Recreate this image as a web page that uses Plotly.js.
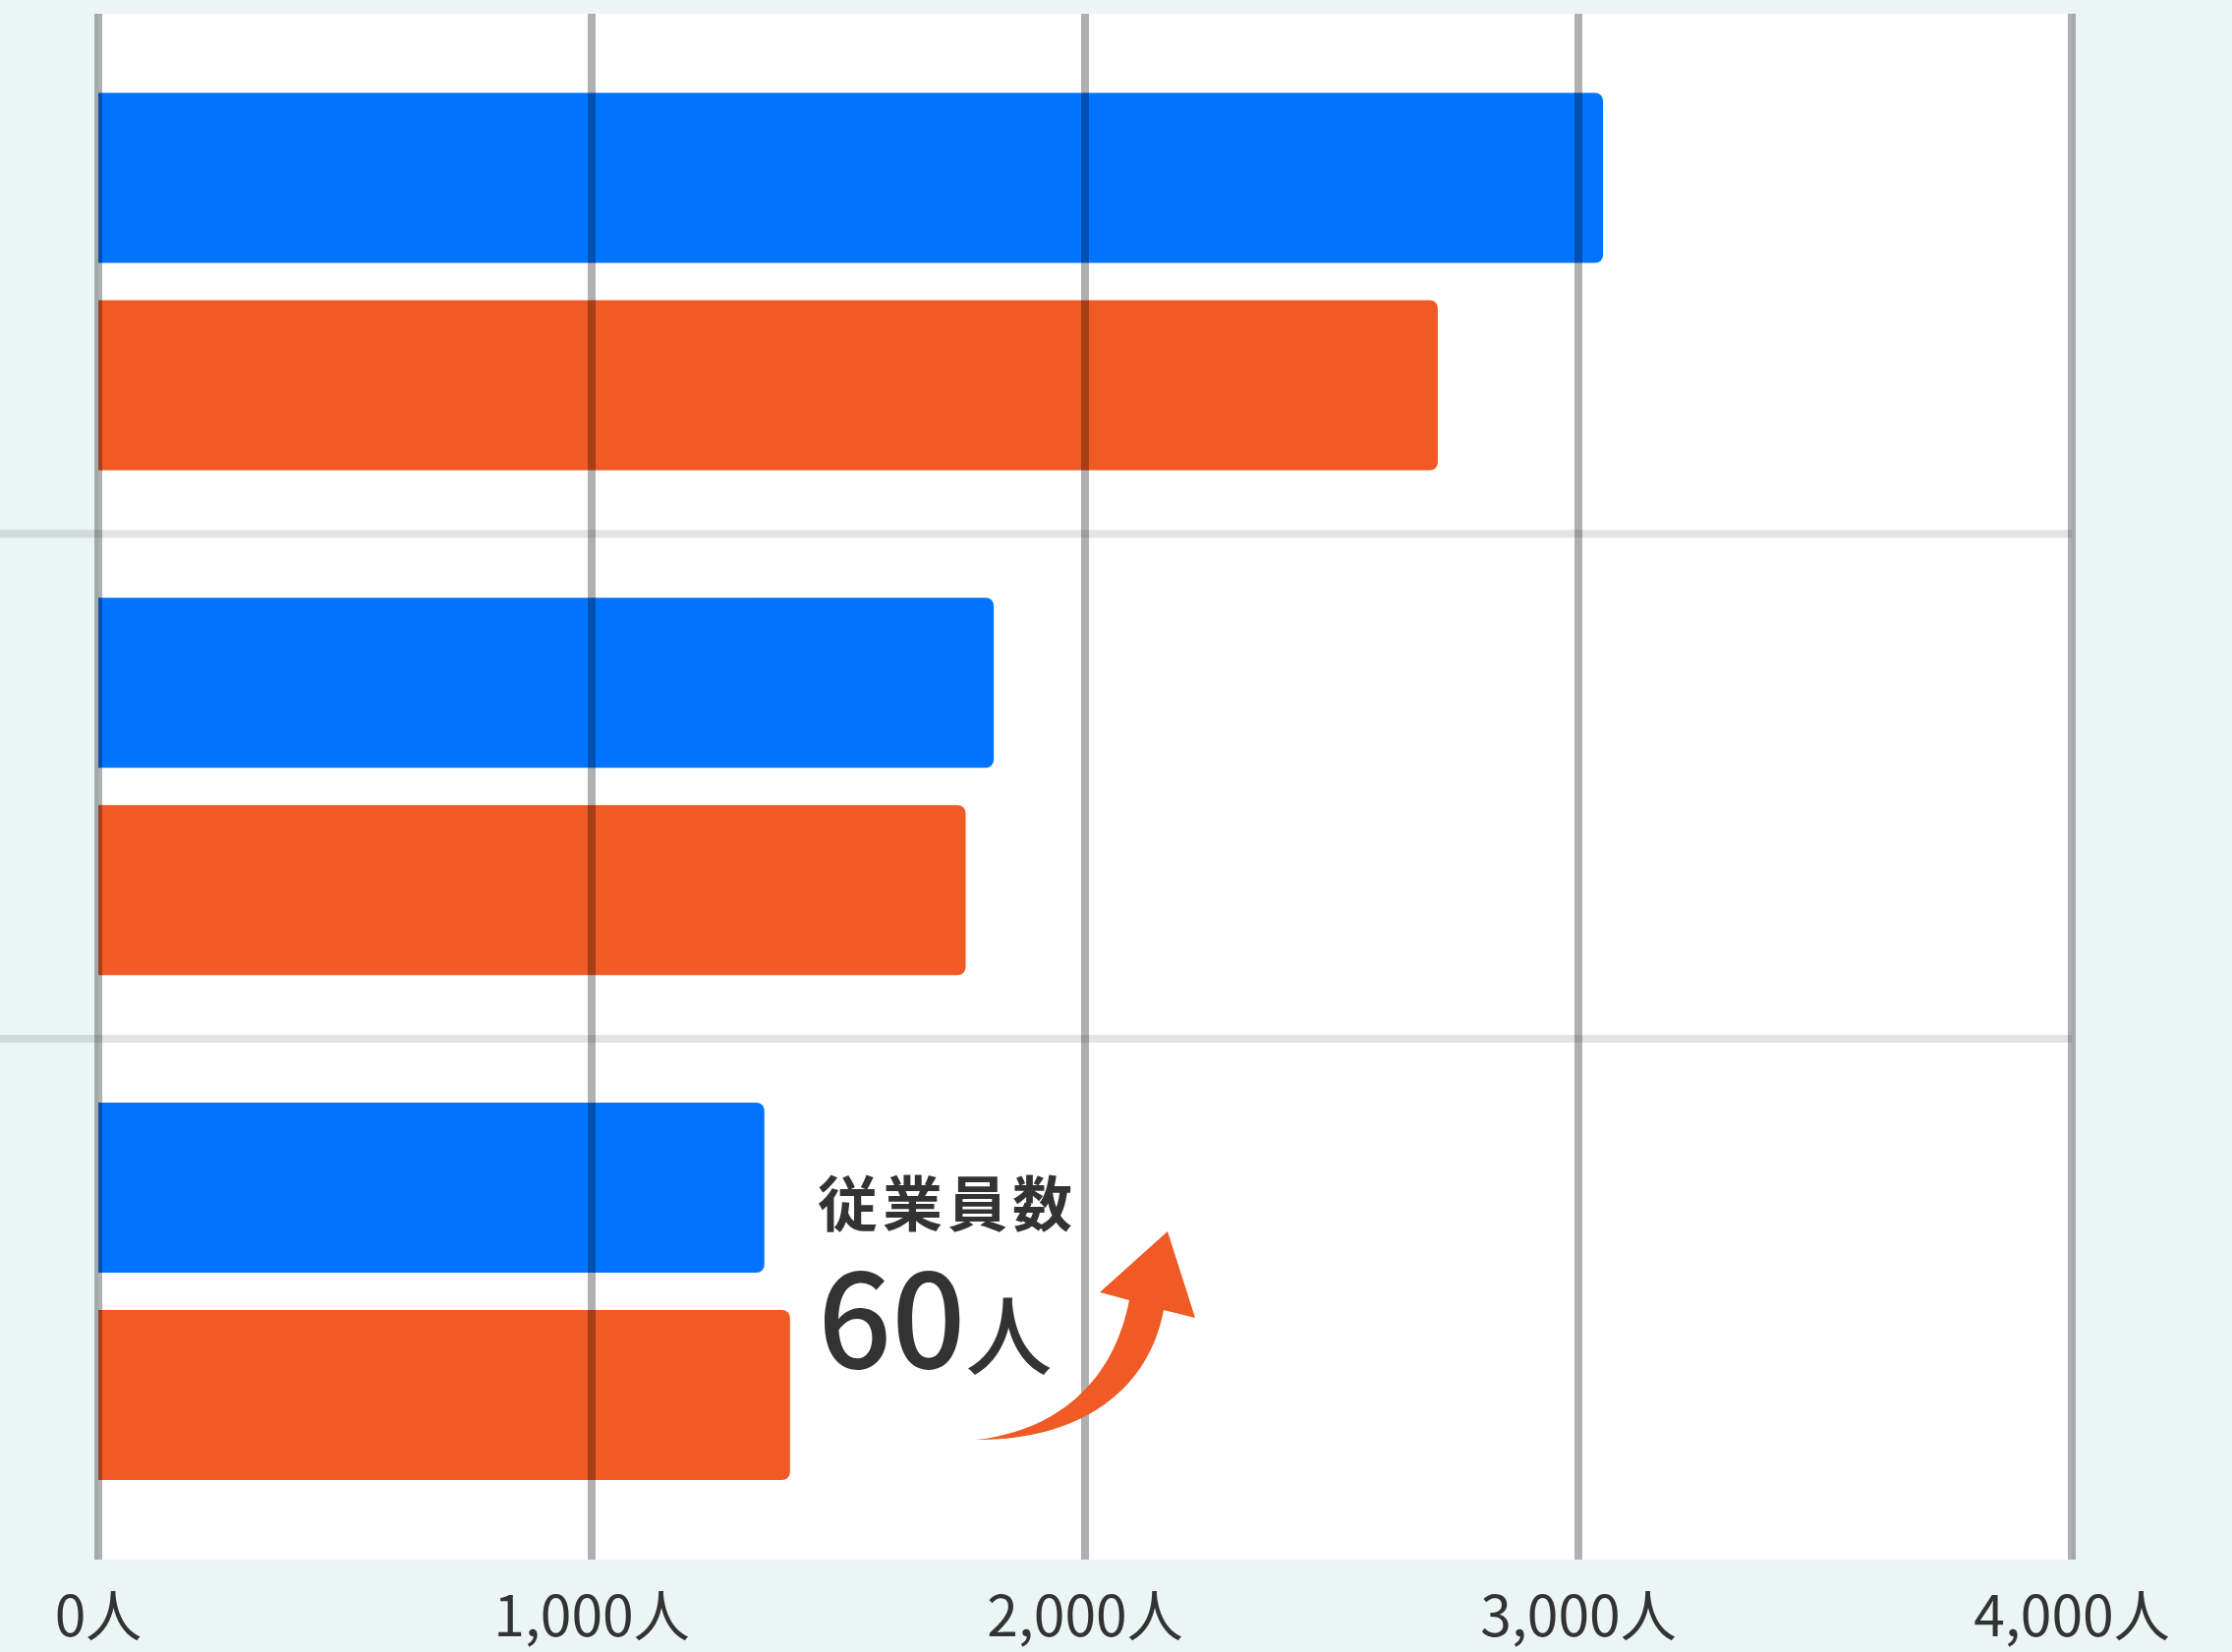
<!DOCTYPE html>
<html>
<head>
<meta charset="utf-8">
<script src="https://cdn.plot.ly/plotly-3.0.1.min.js"></script>
<style>
  html, body { margin: 0; padding: 0; background: #EBF5F3; }
  #chart { width: 2271px; height: 1681px; }
</style>
</head>
<body>
<div id="chart"></div>
<script>
// ---- data ----
const categories = ["A", "B", "C"];
const seriesNames = ["系列1", "系列2"];
const blueValues = [3050, 1815, 1350];
const orangeValues = [2715, 1758, 1402];
const tickValues = [0, 1000, 2000, 3000, 4000];
const tickLabels = ["0人", "1,000人", "2,000人", "3,000人", "4,000人"];
const noteTitle = "従業員数";
const noteNumber = "60";
const noteUnit = "人";

// ---- styles ----
const BLUE = "#0074FF";
const ORANGE = "#EF5A25";
const TEXT = "#333333";
const FONT = "Noto Sans CJK JP";

const W = 2271, H = 1681;
const M = { l: 90, r: 153, t: 14, b: 94 };
const PW = W - M.l - M.r, PH = H - M.t - M.b;
const xRange = [-20, 4020];
const yRange = [2.5314, -0.5304];

function px2paperX(X) { return (X - M.l) / PW; }
function px2paperY(Y) { return (M.t + PH - Y) / PH; }
function dataXToPaper(v) { return (v - xRange[0]) / (xRange[1] - xRange[0]); }
function pt(X, Y) { return px2paperX(X).toFixed(5) + "," + px2paperY(Y).toFixed(5); }

const traces = [
  { type: "bar", orientation: "h", name: seriesNames[0], x: blueValues, y: categories,
    marker: { color: BLUE, line: { width: 0 } }, hoverinfo: "skip" },
  { type: "bar", orientation: "h", name: seriesNames[1], x: orangeValues, y: categories,
    marker: { color: ORANGE, line: { width: 0 } }, hoverinfo: "skip" }
];

const shapes = [];
// white plot panel between first and last tick
shapes.push({ type: "rect", xref: "x", yref: "paper", x0: tickValues[0], x1: tickValues[tickValues.length - 1],
  y0: 0, y1: 1, fillcolor: "#FFFFFF", line: { width: 0 }, layer: "below" });
// category separators
for (let i = 0; i < categories.length - 1; i++) {
  shapes.push({ type: "line", xref: "paper", yref: "y",
    x0: px2paperX(0), x1: dataXToPaper(tickValues[tickValues.length - 1]),
    y0: i + 0.5, y1: i + 0.5,
    line: { color: "rgba(0,0,0,0.11)", width: 8 }, layer: "above" });
}
// vertical grid lines above bars
tickValues.forEach(v => {
  shapes.push({ type: "line", xref: "x", yref: "paper", x0: v, x1: v, y0: 0, y1: 1,
    line: { color: "rgba(0,0,0,0.31)", width: 8 }, layer: "above" });
});
// curved arrow decoration
const arrowPath = "M " + pt(993, 1465) +
  " C " + pt(1095, 1466) + " " + pt(1168, 1418) + " " + pt(1184, 1333) +
  " L " + pt(1216, 1341) + " L " + pt(1188, 1253) + " L " + pt(1119, 1315) +
  " L " + pt(1149, 1323) +
  " C " + pt(1130, 1420) + " " + pt(1060, 1458) + " " + pt(993, 1465) + " Z";
shapes.push({ type: "path", xref: "paper", yref: "paper", path: arrowPath,
  fillcolor: ORANGE, line: { width: 0 }, layer: "above" });

const annotations = [
  { xref: "paper", yref: "paper", x: px2paperX(830), y: px2paperY(1303), xanchor: "left", yanchor: "middle",
    align: "left", showarrow: false,
    text: "<span style='font-size:61px;font-weight:700;letter-spacing:5px'>" + noteTitle + "</span><br>" +
          "<span style='font-size:132px'>" + noteNumber + "</span><span style='font-size:88px'>" + noteUnit + "</span>",
    font: { family: FONT, size: 111, color: TEXT, weight: 500 } }
];

const layout = {
  width: W, height: H,
  margin: M,
  paper_bgcolor: "#EBF5F3",
  plot_bgcolor: "rgba(0,0,0,0)",
  showlegend: false,
  barmode: "group",
  bargap: 0.1786,
  bargroupgap: 0.18,
  barcornerradius: 8,
  font: { family: FONT, color: TEXT },
  xaxis: {
    range: xRange, tickvals: tickValues, ticktext: tickLabels,
    showgrid: false, zeroline: false, showline: false, ticks: "",
    tickfont: { family: FONT, size: 57, color: TEXT },
    ticklabelstandoff: 20, fixedrange: true
  },
  yaxis: {
    type: "category", categoryorder: "array", categoryarray: categories,
    range: yRange, showgrid: false, zeroline: false, showline: false,
    showticklabels: false, ticks: "", fixedrange: true
  },
  shapes: shapes,
  annotations: annotations
};

Plotly.newPlot("chart", traces, layout, { displayModeBar: false, staticPlot: true });
</script>
</body>
</html>
